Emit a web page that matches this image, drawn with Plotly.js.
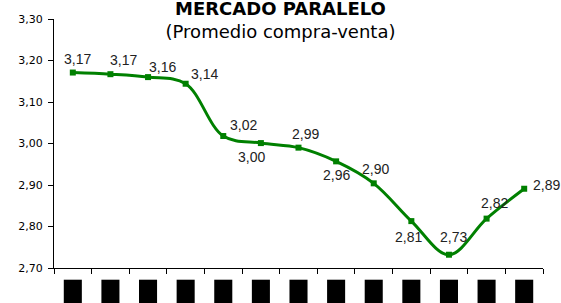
<!DOCTYPE html>
<html>
<head>
<meta charset="utf-8">
<script src="https://cdn.plot.ly/plotly-3.0.1.min.js"></script>
<style>
html,body{margin:0;padding:0;background:#fff;}
#chart{width:561px;height:303px;}
</style>
</head>
<body>
<div id="chart"></div>
<script>
// Data
const categories = ["P01","P02","P03","P04","P05","P06","P07","P08","P09","P10","P11","P12","P13"];
const values = [3.171, 3.167, 3.160, 3.144, 3.018, 3.001, 2.990, 2.957, 2.904, 2.813, 2.732, 2.819, 2.891];
const yTicks = [2.70, 2.80, 2.90, 3.00, 3.10, 3.20, 3.30];

// Label placement (style only): pixel shifts of each value label from its point
const labelShift = [[5,-14],[13,-14],[14,-10],[19,-10],[20,-11],[-9,14],[7,-14],[0,14],[2,-14],[-3,16],[5,-18],[8,-16],[22,-4]];

const fmt = v => v.toFixed(2).replace('.', ',');

const trace = {
  x: categories,
  y: values,
  type: 'scatter',
  mode: 'lines+markers',
  line: {color: '#008000', width: 3, shape: 'spline', smoothing: 1},
  marker: {symbol: 'square', size: 6, color: '#008000'},
  hoverinfo: 'skip'
};

const annotations = values.map((v, i) => ({
  x: categories[i], y: v, xref: 'x', yref: 'y',
  text: fmt(v), showarrow: false,
  xshift: labelShift[i][0], yshift: -labelShift[i][1],
  font: {family: 'Liberation Sans, Arial, sans-serif', size: 14, color: '#222'}
}));

// Redacted (blacked-out) category labels under the axis, one per category
const shapes = categories.map((c, i) => ({
  type: 'rect', xref: 'x', yref: 'paper',
  x0: i - 0.24, x1: i + 0.24, y0: -0.16, y1: -0.047,
  fillcolor: '#000', line: {width: 0}, layer: 'above'
}));

const layout = {
  width: 561, height: 303,
  margin: {l: 54, r: 18, t: 19, b: 35},
  paper_bgcolor: '#fff', plot_bgcolor: '#fff',
  separators: ',.',
  showlegend: false,
  title: {
    text: '<b>MERCADO PARALELO</b><br>(Promedio compra-venta)',
    font: {family: 'DejaVu Sans, sans-serif', size: 18, color: '#000'},
    x: 0.5, xref: 'container', xanchor: 'center',
    y: 1, yref: 'container', yanchor: 'top',
    pad: {t: 15}
  },
  xaxis: {
    type: 'category',
    tickson: 'boundaries',
    ticks: 'outside', ticklen: 5, tickcolor: '#000', tickwidth: 1,
    showticklabels: false,
    showline: true, linecolor: '#000', linewidth: 1,
    showgrid: false, zeroline: false,
    range: [-0.5, 12.5], fixedrange: true
  },
  yaxis: {
    range: [2.70, 3.30],
    tickmode: 'array', tickvals: yTicks, tickformat: '.2f',
    ticks: 'outside', ticklen: 5, tickcolor: '#000', tickwidth: 1,
    showline: true, linecolor: '#000', linewidth: 1,
    showgrid: false, zeroline: false,
    tickfont: {family: 'DejaVu Sans, sans-serif', size: 11, color: '#000'},
    ticklabelstandoff: 3,
    fixedrange: true
  },
  shapes: shapes,
  annotations: annotations
};

Plotly.newPlot('chart', [trace], layout, {displayModeBar: false, staticPlot: true});
</script>
</body>
</html>
